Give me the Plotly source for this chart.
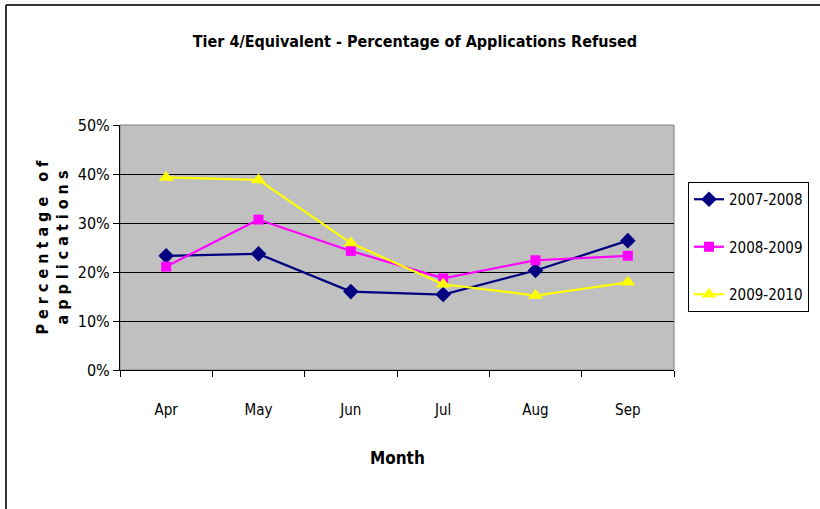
import plotly.graph_objects as go

months = ["Apr", "May", "Jun", "Jul", "Aug", "Sep"]
series_names = ["2007-2008", "2008-2009", "2009-2010"]
s2007 = [0.233, 0.237, 0.160, 0.154, 0.203, 0.264]
s2008 = [0.211, 0.307, 0.243, 0.187, 0.224, 0.233]
s2009 = [0.393, 0.388, 0.259, 0.175, 0.152, 0.179]
y_ticks = [0, 0.1, 0.2, 0.3, 0.4, 0.5]

FONT = "DejaVu Sans Condensed, Liberation Sans, sans-serif"

styles = [
    dict(color="#000080", symbol="diamond", size=12),
    dict(color="#FF00FF", symbol="square", size=10),
    dict(color="#FFFF00", symbol="triangle-up", size=13),
]

fig = go.Figure()
for i, (name, vals) in enumerate(zip(series_names, [s2007, s2008, s2009])):
    st = styles[i]
    fig.add_trace(go.Scatter(
        x=months, y=vals, name=name, mode="lines+markers",
        line=dict(color=st["color"], width=2.2),
        marker=dict(color=st["color"], symbol=st["symbol"], size=st["size"]),
        legendgroup=name,
    ))

fig.update_layout(
    width=820, height=509,
    margin=dict(l=120, r=146, t=125, b=139),
    paper_bgcolor="white",
    plot_bgcolor="#C0C0C0",
    font=dict(family=FONT, size=15, color="black"),
    title=dict(text="<b>Tier 4/Equivalent - Percentage of Applications Refused</b>",
               x=0.506, xanchor="center", y=1 - 41 / 509, yanchor="middle",
               font=dict(family=FONT, size=16, color="black")),
    showlegend=True,
    legend=dict(x=688 / 820, xanchor="left", y=1 - 182 / 509, yanchor="top",
                xref="container", yref="container",
                bgcolor="white", bordercolor="black", borderwidth=1,
                font=dict(family=FONT, size=15, color="black"),
                tracegroupgap=25, itemwidth=30),
    xaxis=dict(
        type="category", range=[-0.5, 5.5], tickson="boundaries",
        ticks="outside", ticklen=6,
        tickcolor="black", showline=True, linecolor="black", linewidth=1,
        showgrid=False, ticklabelstandoff=26,
        tickfont=dict(family=FONT, size=15),
    ),
    yaxis=dict(
        range=[0, 0.5], tickvals=y_ticks, tickformat=".0%",
        ticks="outside", ticklen=6, tickcolor="black",
        showline=True, linecolor="black", linewidth=1,
        showgrid=True, gridcolor="black", gridwidth=1,
        zeroline=False, tickfont=dict(family=FONT, size=16),
    ),
    shapes=[
        dict(type="rect", xref="paper", yref="paper", x0=0, x1=1, y0=0, y1=1,
             line=dict(color="#808080", width=1), layer="below"),
        dict(type="line", xref="paper", yref="paper",
             x0=(6 - 120) / 554, x1=(830 - 120) / 554,
             y0=1 + 120 / 245, y1=1 + 120 / 245,
             line=dict(color="#333333", width=2)),
        dict(type="line", xref="paper", yref="paper",
             x0=(6 - 120) / 554, x1=(6 - 120) / 554,
             y0=1 + 120 / 245, y1=-150 / 245,
             line=dict(color="#333333", width=2)),
    ],
    annotations=[
        dict(text="<b>Month</b>", xref="paper", yref="paper",
             x=0.5, y=-(458 - 370) / 245, xanchor="center", yanchor="middle",
             showarrow=False, font=dict(family=FONT, size=17)),
        dict(text="<b>P e r c e n t a g e   o f<br>a p p l i c a t i o n s</b>",
             xref="paper", yref="paper", x=(52 - 120) / 554, y=0.5,
             xanchor="center", yanchor="middle", textangle=-90,
             showarrow=False, font=dict(family=FONT, size=16)),
    ],
)

fig.write_html("out.html", config={"displayModeBar": False},
               post_script="document.body.style.margin='0';")
